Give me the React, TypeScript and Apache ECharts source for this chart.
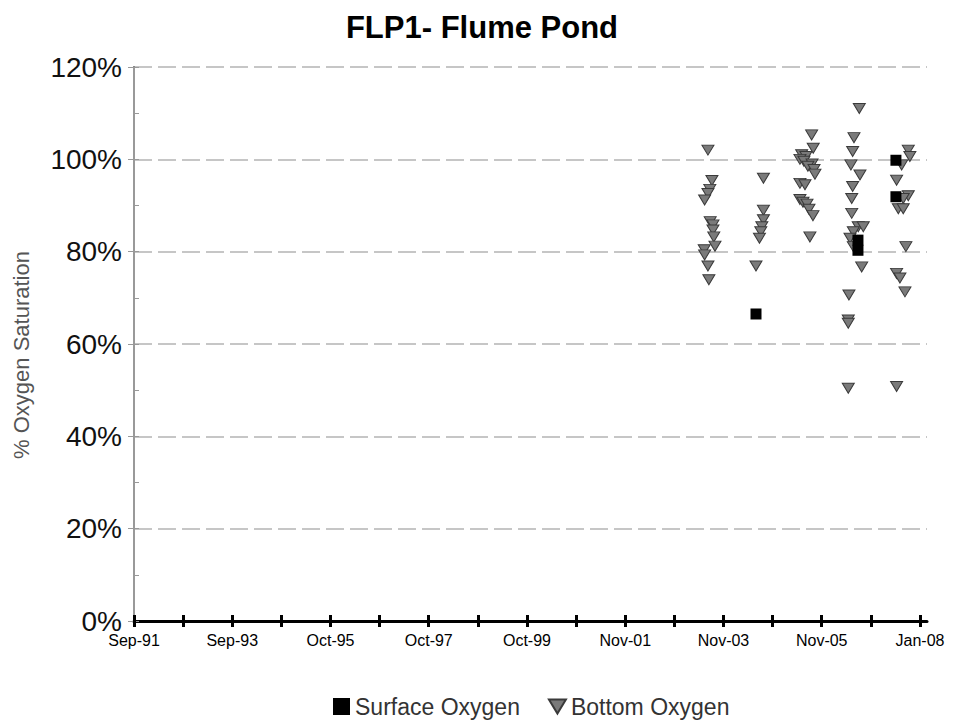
import React, { useEffect, useRef } from "react";
import * as echarts from "echarts";

// ---- data ----
const title = "FLP1- Flume Pond";
const yAxisName = "% Oxygen Saturation";
const axisStartDate = "1991-09-15";
const tickStepDays = 370;
const tickCount = 16;
const axisEndDays = 5973;
const xTickLabels = ["Sep-91", "Sep-93", "Oct-95", "Oct-97", "Oct-99", "Nov-01", "Nov-03", "Nov-05", "Jan-08"];
const yTicks = [0, 20, 40, 60, 80, 100, 120];

const surfaceOxygen: [string, number][] = [
  ["2004-07-13", 66.5],
  ["2006-08-20", 82.5],
  ["2006-08-20", 80.3],
  ["2007-06-02", 99.8],
  ["2007-06-02", 91.9],
];

const bottomOxygen2003: [string, number][] = [
  ["2003-07-17", 102.0], ["2003-08-16", 95.4], ["2003-07-31", 93.5], ["2003-07-17", 92.6],
  ["2003-06-22", 91.2], ["2003-08-03", 86.5], ["2003-08-24", 85.8], ["2003-08-24", 84.7],
  ["2003-08-30", 83.2], ["2003-09-08", 81.2], ["2003-06-19", 80.4], ["2003-06-22", 79.3],
  ["2003-07-17", 76.9], ["2003-07-24", 73.9],
];
const bottomOxygen2004: [string, number][] = [
  ["2004-09-07", 95.9], ["2004-09-07", 89.0], ["2004-09-07", 86.9], ["2004-08-26", 85.4],
  ["2004-08-18", 84.3], ["2004-08-08", 82.9], ["2004-07-13", 76.9],
];
const bottomOxygen2005: [string, number][] = [
  ["2005-09-05", 105.3], ["2005-09-17", 102.4], ["2005-06-22", 101.0], ["2005-07-24", 100.6],
  ["2005-06-09", 100.0], ["2005-07-09", 99.6], ["2005-09-08", 99.0], ["2005-08-08", 98.5],
  ["2005-09-23", 97.8], ["2005-09-30", 96.8], ["2005-06-09", 94.8], ["2005-07-17", 94.5],
  ["2005-06-09", 91.3], ["2005-07-02", 90.7], ["2005-08-01", 90.3], ["2005-08-16", 89.2],
  ["2005-09-15", 87.8], ["2005-08-23", 83.2],
];
const bottomOxygen2006: [string, number][] = [
  ["2006-08-30", 111.0], ["2006-07-21", 104.7], ["2006-07-11", 101.7], ["2006-06-28", 98.8],
  ["2006-09-04", 96.6], ["2006-07-11", 94.1], ["2006-07-04", 91.5], ["2006-07-04", 88.3],
  ["2006-08-22", 85.4], ["2006-09-29", 85.4], ["2006-07-16", 84.3], ["2006-06-21", 82.9],
  ["2006-07-16", 81.1], ["2006-09-17", 76.7], ["2006-06-13", 70.6], ["2006-06-08", 65.2],
  ["2006-06-08", 64.5], ["2006-06-08", 50.4],
];
const bottomOxygen2007: [string, number][] = [
  ["2007-09-03", 102.0], ["2007-09-15", 100.6], ["2007-07-15", 98.8], ["2007-06-07", 95.5],
  ["2007-09-03", 92.1], ["2007-07-27", 91.5], ["2007-06-20", 89.3], ["2007-07-27", 89.3],
  ["2007-08-16", 81.1], ["2007-06-07", 75.3], ["2007-07-02", 74.3], ["2007-08-09", 71.3],
  ["2007-06-07", 50.8],
];

// ---- helpers ----
const startMs = Date.parse(axisStartDate + "T00:00:00Z");
const dayOf = (s: string) => (Date.parse(s + "T00:00:00Z") - startMs) / 86400000;
const toPoints = (arr: [string, number][]) => arr.map(([d, v]) => [dayOf(d), v]);

const tickValues: number[] = [];
for (let i = 0; i <= tickCount; i++) tickValues.push(i * tickStepDays);
const labelValues = tickValues.filter((_, i) => i % 2 === 0);

const FONT = "Liberation Sans, Arial, sans-serif";
const TRI = "path://M0,0L12,0L6,10Z";

export default function App() {
  const ref = useRef<HTMLDivElement>(null);
  useEffect(() => {
    if (!ref.current) return;
    const chart = echarts.init(ref.current, undefined, { renderer: "svg" });
    const bottomAll = [
      ...bottomOxygen2003,
      ...bottomOxygen2004,
      ...bottomOxygen2005,
      ...bottomOxygen2006,
      ...bottomOxygen2007,
    ];
    chart.setOption({
      animation: false,
      backgroundColor: "#ffffff",
      title: {
        text: title,
        left: "center",
        top: 7,
        textStyle: { fontFamily: FONT, fontSize: 31, fontWeight: "bold", color: "#000" },
      },
      legend: {
        left: 328,
        top: 690,
        itemWidth: 17,
        itemHeight: 17,
        itemGap: 28,
        textStyle: { fontFamily: FONT, fontSize: 23, color: "#333" },
        data: [
          { name: "Surface Oxygen", icon: "rect", itemStyle: { color: "#000" } },
          { name: "Bottom Oxygen", icon: TRI, itemStyle: { color: "#7a7a7a" } },
        ],
      },
      grid: { left: 134, right: 37, top: 67, bottom: 103 },
      xAxis: [
        {
          type: "value",
          min: 0,
          max: axisEndDays,
          position: "bottom",
          axisLine: { show: true, onZero: false, lineStyle: { color: "#000", width: 3 } },
          axisTick: { show: true, customValues: tickValues, length: 6, lineStyle: { color: "#000", width: 3 } },
          axisLabel: {
            customValues: labelValues,
            margin: 11,
            fontFamily: FONT,
            fontSize: 16,
            color: "#000",
            formatter: (v: number) => {
              const i = labelValues.indexOf(v);
              return i >= 0 ? xTickLabels[i] : "";
            },
          },
          splitLine: { show: false },
        },
        {
          type: "value",
          min: 0,
          max: axisEndDays,
          position: "bottom",
          offset: 0,
          axisLine: { show: false },
          axisTick: { show: true, inside: true, customValues: tickValues, length: 6, lineStyle: { color: "#000", width: 3 } },
          axisLabel: { show: false },
          splitLine: { show: false },
        },
      ],
      yAxis: [
        {
          type: "value",
          min: 0,
          max: 120,
          interval: 20,
          position: "left",
          name: yAxisName,
          nameLocation: "middle",
          nameGap: 102,
          nameTextStyle: { fontFamily: FONT, fontSize: 22, color: "#555", padding: [0, 22, 0, 0] },
          axisLine: { show: true, onZero: false, lineStyle: { color: "#333", width: 2 } },
          axisTick: { show: true, length: 6, lineStyle: { color: "#999", width: 1 } },
          axisLabel: {
            margin: 12,
            fontFamily: FONT,
            fontSize: 28,
            color: "#111",
            verticalAlign: "middle",
            padding: [0, 0, 4, 0],
            formatter: (v: number) => (yTicks.indexOf(v) >= 0 ? v + "%" : ""),
          },
          splitLine: { show: true, lineStyle: { color: "#b4b4b4", width: 1.5, type: [18, 6] } },
        },
        {
          type: "value",
          min: 0,
          max: 120,
          interval: 20,
          position: "right",
          axisLine: { show: true, lineStyle: { color: "#999", width: 2 } },
          axisTick: { show: false },
          axisLabel: { show: false },
          splitLine: { show: false },
        },
        {
          type: "value",
          min: 0,
          max: 120,
          interval: 10,
          position: "left",
          offset: 0,
          axisLine: { show: false },
          axisTick: { show: true, inside: true, length: 5, lineStyle: { color: "#999", width: 1 } },
          axisLabel: { show: false },
          splitLine: { show: false },
        },
      ],
      series: [
        {
          name: "Bottom Oxygen",
          type: "scatter",
          xAxisIndex: 0,
          yAxisIndex: 0,
          symbol: TRI,
          symbolSize: [12, 10],
          itemStyle: { color: "#7a7a7a", borderColor: "#3a3a3a", borderWidth: 1, opacity: 1 },
          data: toPoints(bottomAll),
          z: 2,
        },
        {
          name: "Surface Oxygen",
          type: "scatter",
          xAxisIndex: 0,
          yAxisIndex: 0,
          symbol: "rect",
          symbolSize: 11,
          itemStyle: { color: "#000", opacity: 1 },
          data: toPoints(surfaceOxygen),
          z: 3,
        },
      ],
    });
    return () => chart.dispose();
  }, []);
  return (
    <div
      ref={ref}
      style={{ position: "fixed", left: 0, top: 0, width: 964, height: 724, background: "#fff" }}
    />
  );
}
